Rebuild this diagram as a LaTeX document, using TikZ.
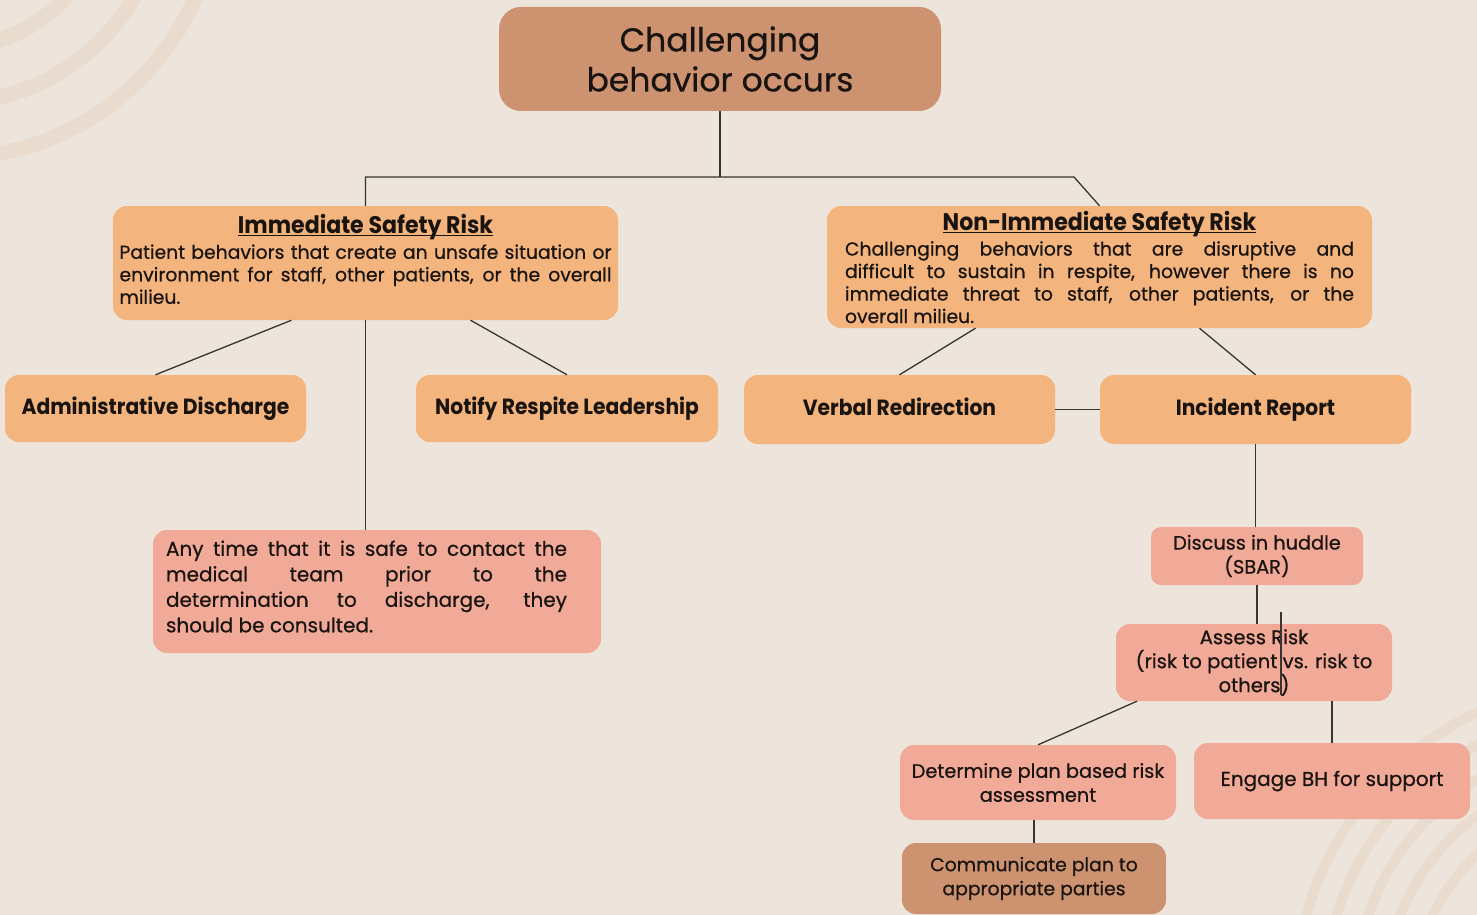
\documentclass[tikz,border=0pt]{standalone}
\usepackage{fontspec}
\setmainfont{Poppins}[FakeBold=0.6]
\newfontfamily\hfont{Poppins}[FakeStretch=0.92]
\definecolor{bg}{RGB}{237,228,219}
\definecolor{arc}{RGB}{233,219,206}
\definecolor{brn}{RGB}{205,146,111}
\definecolor{orng}{RGB}{243,180,126}
\definecolor{pnk}{RGB}{241,169,152}
\definecolor{ink}{RGB}{25,20,16}
\definecolor{wire}{RGB}{55,52,50}
\newcommand{\ulx}[1]{\leavevmode\setbox0\hbox{#1}\rlap{\rule[-2.8pt]{\wd0}{1.3pt}}\box0}
\newcommand{\jl}[2]{\makebox[#1][s]{#2}}
\begin{document}
\begin{tikzpicture}[x=1pt,y=-1pt,
  box/.style={rounded corners=14pt, inner sep=0pt, anchor=center, text=ink, align=center},
  obox/.style={box, fill=orng},
  pbox/.style={box, fill=pnk},
  bbox/.style={box, fill=brn},
  head/.style={font=\hfont\bfseries\fontsize{22}{24}\selectfont, text height=16pt, text depth=5pt},
  wirel/.style={draw=wire, line width=1.3pt},
  arcl/.style={draw=arc, line width=15pt},
  arcs/.style={draw=arc, line width=10pt}]
\useasboundingbox (0,0) rectangle (1477,915);
\fill[bg] (0,0) rectangle (1477,915);
\begin{scope}
\clip (0,0) rectangle (1477,915);
\foreach \r in {268,213,158} \draw[arcl] (-50,-110) circle[radius=\r];
\foreach \r in {318,289,259,229,199} \draw[arcs] (1613,1000) circle[radius=\r];
\end{scope}

% nodes
\node[bbox, rounded corners=22pt, minimum width=442pt, minimum height=104pt,
  font=\fontsize{33}{40}\selectfont] (top) at (720,59)
  {Challenging\\behavior occurs};

\node[obox, minimum width=505pt, minimum height=114pt] (imm) at (365.5,263)
  {\parbox{492pt}{\centering{\hfont\bfseries\fontsize{24}{24}\selectfont\ulx{Immediate Safety Risk}}\\[3pt]
   \fontsize{18.8}{22.5}\selectfont
   \jl{492pt}{Patient behaviors that create an unsafe situation or}\\
   \jl{492pt}{environment for staff, other patients, or the overall}\\
   \makebox[492pt][l]{milieu.}\par\vspace{8pt}}};

\node[obox, minimum width=545pt, minimum height=122pt] (nonimm) at (1099.5,267)
  {\parbox{509pt}{\centering{\hfont\bfseries\fontsize{24}{24}\selectfont\ulx{Non-Immediate Safety Risk}}\\[3pt]
   \fontsize{18.8}{22.5}\selectfont
   \jl{509pt}{Challenging behaviors that are disruptive and}\\
   \jl{509pt}{difficult to sustain in respite, however there is no}\\
   \jl{509pt}{immediate threat to staff, other patients, or the}\\
   \makebox[509pt][l]{overall milieu.}}};

\node[obox, head, minimum width=301pt, minimum height=67pt] (admin) at (155.5,408.5)
  {Administrative Discharge};
\node[obox, head, minimum width=302pt, minimum height=67pt] (notify) at (567,408.5)
  {Notify Respite Leadership};
\node[obox, head, minimum width=311pt, minimum height=69pt] (verbal) at (899.5,409.5)
  {Verbal Redirection};
\node[obox, head, minimum width=311pt, minimum height=69pt] (incident) at (1255.5,409.5)
  {Incident Report};

\node[pbox, minimum width=448pt, minimum height=123pt] (any) at (377,591.5)
  {\parbox{422pt}{\fontsize{20}{25.5}\selectfont
   \jl{401pt}{Any time that it is safe to contact the}\\
   \jl{401pt}{medical team prior to the}\\
   \jl{401pt}{determination to discharge, they}\\
   \makebox[401pt][l]{should be consulted.}\par\vspace{10pt}}};

\node[pbox, rounded corners=10pt, minimum width=212pt, minimum height=58pt,
  font=\fontsize{19.3}{24}\selectfont] (discuss) at (1257,556)
  {Discuss in huddle\\(SBAR)};
\node[pbox, minimum width=276pt, minimum height=77pt,
  font=\fontsize{19.6}{24}\selectfont] (assess) at (1254,662.5)
  {Assess Risk\\(risk to patient vs. risk to\\others)};
\node[pbox, minimum width=276pt, minimum height=75pt,
  font=\fontsize{19.3}{24}\selectfont] (determine) at (1038,782.5)
  {Determine plan based risk\\assessment};
\node[pbox, minimum width=276pt, minimum height=76pt,
  font=\fontsize{20}{24}\selectfont] (engage) at (1332,781)
  {Engage BH for support};
\node[bbox, minimum width=264pt, minimum height=71pt,
  font=\fontsize{18.8}{24}\selectfont] (communicate) at (1034,878.5)
  {Communicate plan to\\appropriate parties};

% connectors
\coordinate (hub) at (720,177);
\coordinate (elbow) at (1074,177);
\draw[wirel] (top.south) -- (hub);
\draw[wirel] (imm.north) |- (hub) -- (elbow) -- (nonimm.north);
\draw[wirel] ([xshift=-74pt]imm.south) -- (admin.north);
\draw[wirel] ([xshift=105pt]imm.south) -- (notify.north);
\draw[wirel] (imm.south) -- (imm.south |- any.north);
\draw[wirel] ([xshift=-124pt]nonimm.south) -- (verbal.north);
\draw[wirel] ([xshift=100pt]nonimm.south) -- (incident.north);
\draw[wirel] (verbal.east) -- (incident.west);
\draw[wirel] (incident.south) -- (incident.south |- discuss.north);
\draw[wirel] (discuss.south) -- (discuss.south |- assess.north);
\coordinate (strayA) at (1281,612);
\coordinate (strayB) at (1281,695);
\draw[wirel] (strayA) -- (strayB);
\draw[wirel] ([xshift=-117pt]assess.south) -- (determine.north);
\draw[wirel] ([xshift=78pt]assess.south) -- (engage.north);
\draw[wirel] (communicate.north |- determine.south) -- (communicate.north);
\end{tikzpicture}
\end{document}
